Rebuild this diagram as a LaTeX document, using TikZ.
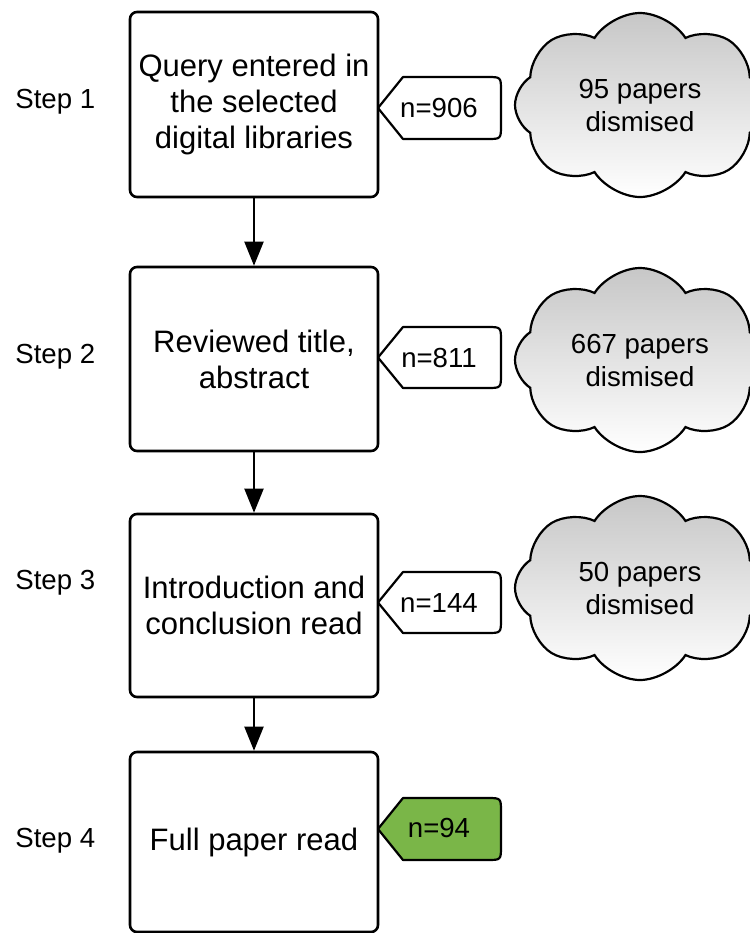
\documentclass[tikz,border=0pt]{standalone}
\usepackage{fontspec}
\setmainfont{Liberation Sans}
\usetikzlibrary{shapes.symbols,arrows.meta}
\definecolor{tagGreen}{RGB}{122,182,72}
\begin{document}
\begin{tikzpicture}[x=0.5pt,y=-0.5pt,
  stepbox/.style={draw, line width=1.3pt, rounded corners=3.5pt, minimum width=124pt, inner sep=0pt, align=center, font=\fontsize{15.5}{18}\selectfont},
  steplabel/.style={anchor=west, inner sep=0pt, font=\fontsize{13.8}{16}\selectfont},
  cloudbox/.style={cloud, cloud puffs=8, cloud puff arc=115, aspect=1.36, draw, line width=1.1pt, top color=black!22, bottom color=white, minimum width=125pt, minimum height=92pt, align=center, font=\fontsize{13.8}{16.5}\selectfont, inner sep=0pt, shape border rotate=8},
  tagtext/.style={font=\fontsize{13.8}{16}\selectfont, inner sep=0pt},
  tagline/.style={draw, line width=1.1pt, line join=round},
  arr/.style={line width=1pt, -{Triangle[length=12pt,width=9.5pt]}}]
\useasboundingbox (0,0) rectangle (750,933);
\clip (0,0) rectangle (750,933);

% step labels
\node[steplabel] (s1) at (15,102) {Step 1};
\node[steplabel] (s2) at (15,357) {Step 2};
\node[steplabel] (s3) at (15,583) {Step 3};
\node[steplabel] (s4) at (15,841) {Step 4};

% boxes
\node[stepbox, minimum height=92.5pt] (b1) at (254,104.5) {Query entered in\\the selected\\digital libraries};
\node[stepbox, minimum height=92pt] (b2) at (254,359) {Reviewed title,\\abstract};
\node[stepbox, minimum height=91.5pt] (b3) at (254,605.5) {Introduction and\\conclusion read};
\node[stepbox, minimum height=90pt] (b4) at (254,842) {Full paper read};

% arrows
\draw[arr] (b1.south) -- (b2.north);
\draw[arr] (b2.south) -- (b3.north);
\draw[arr] (b3.south) -- (b4.north);

% tags
\draw[tagline] (378,108) -- (403,77) -- (487,77) .. controls (501,77) .. (501,91) -- (501,125) .. controls (501,139) .. (487,139) -- (403,139) -- cycle;
\node[tagtext] (t1) at (439,108) {n=906};
\draw[tagline] (378,357.5) -- (403,327) -- (487,327) .. controls (501,327) .. (501,341) -- (501,374) .. controls (501,388) .. (487,388) -- (403,388) -- cycle;
\node[tagtext] (t2) at (439,357.5) {n=811};
\draw[tagline] (378,602.5) -- (403,572) -- (487,572) .. controls (501,572) .. (501,586) -- (501,619) .. controls (501,633) .. (487,633) -- (403,633) -- cycle;
\node[tagtext] (t3) at (439,602.5) {n=144};
\draw[tagline, fill=tagGreen] (378,829) -- (403,798) -- (487,798) .. controls (501,798) .. (501,812) -- (501,846) .. controls (501,860) .. (487,860) -- (403,860) -- cycle;
\node[tagtext] (t4) at (439,828) {n=94};

% clouds
\node[cloudbox] (c1) at (640,105) {95 papers\\dismised};
\node[cloudbox] (c2) at (640,360) {667 papers\\dismised};
\node[cloudbox] (c3) at (640,588) {50 papers\\dismised};
\end{tikzpicture}
\end{document}
